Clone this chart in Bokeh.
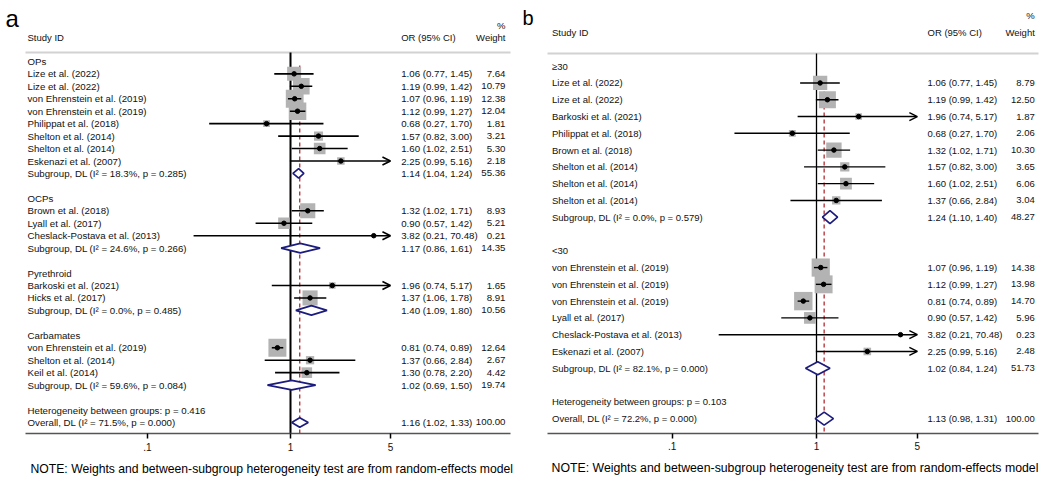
import math
from bokeh.plotting import figure
from bokeh.models import (Range1d, LogAxis, FixedTicker, CustomJSTickFormatter,
                          ColumnDataSource, Arrow, OpenHead)
from bokeh.layouts import row
from bokeh.embed import file_html
from bokeh.resources import INLINE
from bokeh.core.properties import value

# ---------------- Panel a data ----------------
a_label = ["OPs", "Lize et al. (2022)", "Lize et al. (2022)", "von Ehrenstein et al. (2019)",
           "von Ehrenstein et al. (2019)", "Philippat et al. (2018)", "Shelton et al. (2014)",
           "Shelton et al. (2014)", "Eskenazi et al. (2007)", "Subgroup, DL (I² = 18.3%, p = 0.285)", "",
           "OCPs", "Brown et al. (2018)", "Lyall et al. (2017)", "Cheslack-Postava et al. (2013)",
           "Subgroup, DL (I² = 24.6%, p = 0.266)", "",
           "Pyrethroid", "Barkoski et al. (2021)", "Hicks et al. (2017)",
           "Subgroup, DL (I² = 0.0%, p = 0.485)", "",
           "Carbamates", "von Ehrenstein et al. (2019)", "Shelton et al. (2014)", "Keil et al. (2014)",
           "Subgroup, DL (I² = 59.6%, p = 0.084)", "",
           "Heterogeneity between groups: p = 0.416", "Overall, DL (I² = 71.5%, p = 0.000)"]
a_kind = ["g", "s", "s", "s", "s", "s", "s", "s", "s", "d", "b",
          "g", "s", "s", "s", "d", "b",
          "g", "s", "s", "d", "b",
          "g", "s", "s", "s", "d", "b",
          "h", "o"]
a_or = [None, 1.06, 1.19, 1.07, 1.12, 0.68, 1.57, 1.60, 2.25, 1.14, None,
        None, 1.32, 0.90, 3.82, 1.17, None,
        None, 1.96, 1.37, 1.40, None,
        None, 0.81, 1.37, 1.30, 1.02, None,
        None, 1.16]
a_lo = [None, 0.77, 0.99, 0.96, 0.99, 0.27, 0.82, 1.02, 0.99, 1.04, None,
        None, 1.02, 0.57, 0.21, 0.86, None,
        None, 0.74, 1.06, 1.09, None,
        None, 0.74, 0.66, 0.78, 0.69, None,
        None, 1.02]
a_hi = [None, 1.45, 1.42, 1.19, 1.27, 1.70, 3.00, 2.51, 5.16, 1.24, None,
        None, 1.71, 1.42, 70.48, 1.61, None,
        None, 5.17, 1.78, 1.80, None,
        None, 0.89, 2.84, 2.20, 1.50, None,
        None, 1.33]
a_wt = [None, 7.64, 10.79, 12.38, 12.04, 1.81, 3.21, 5.30, 2.18, 55.36, None,
        None, 8.93, 5.21, 0.21, 14.35, None,
        None, 1.65, 8.91, 10.56, None,
        None, 12.64, 2.67, 4.42, 19.74, None,
        None, 100.00]

# ---------------- Panel b data ----------------
b_label = ["≥30", "Lize et al. (2022)", "Lize et al. (2022)", "Barkoski et al. (2021)",
           "Philippat et al. (2018)", "Brown et al. (2018)", "Shelton et al. (2014)",
           "Shelton et al. (2014)", "Shelton et al. (2014)", "Subgroup, DL (I² = 0.0%, p = 0.579)", "",
           "<30", "von Ehrenstein et al. (2019)", "von Ehrenstein et al. (2019)",
           "von Ehrenstein et al. (2019)", "Lyall et al. (2017)", "Cheslack-Postava et al. (2013)",
           "Eskenazi et al. (2007)", "Subgroup, DL (I² = 82.1%, p = 0.000)", "",
           "Heterogeneity between groups: p = 0.103", "Overall, DL (I² = 72.2%, p = 0.000)"]
b_kind = ["g", "s", "s", "s", "s", "s", "s", "s", "s", "d", "b",
          "g", "s", "s", "s", "s", "s", "s", "d", "b",
          "h", "o"]
b_or = [None, 1.06, 1.19, 1.96, 0.68, 1.32, 1.57, 1.60, 1.37, 1.24, None,
        None, 1.07, 1.12, 0.81, 0.90, 3.82, 2.25, 1.02, None,
        None, 1.13]
b_lo = [None, 0.77, 0.99, 0.74, 0.27, 1.02, 0.82, 1.02, 0.66, 1.10, None,
        None, 0.96, 0.99, 0.74, 0.57, 0.21, 0.99, 0.84, None,
        None, 0.98]
b_hi = [None, 1.45, 1.42, 5.17, 1.70, 1.71, 3.00, 2.51, 2.84, 1.40, None,
        None, 1.19, 1.27, 0.89, 1.42, 70.48, 5.16, 1.24, None,
        None, 1.31]
b_wt = [None, 8.79, 12.50, 1.87, 2.06, 10.30, 3.65, 6.06, 3.04, 48.27, None,
        None, 14.38, 13.98, 14.70, 5.96, 0.23, 2.48, 51.73, None,
        None, 100.00]

TICKS = [0.1, 1, 5]
TICK_LABELS = [".1", "1", "5"]
NULL_OR = 1
CLIP_HI = 5.0
NOTE = "NOTE: Weights and between-subgroup heterogeneity test are from random-effects model"

FONT = value("Liberation Sans")
H = 480
NAVY = "#1c1c7e"
RED = "#b8393e"
GRAY = "#b3b3b3"


def panel(letter, labels, kinds, ors, los, his, wts, L):
    W = L["w"]
    x1, dec = L["x1"], L["dec"]

    def px2x(px):
        return 10 ** ((px - x1) / dec)

    p = figure(width=W, height=H, x_axis_type="log", x_axis_location=None, y_axis_location=None,
               x_range=Range1d(px2x(0), px2x(W)), y_range=Range1d(H, 0),
               output_backend="svg", toolbar_location=None, min_border=0,
               outline_line_color=None, background_fill_color="white", border_fill_color="white")
    p.xgrid.visible = False
    p.ygrid.visible = False

    ys = [L["r0"] + L["rh"] * k for k in range(len(labels))]
    overall = [o for o, k in zip(ors, kinds) if k == "o"][0]

    # header line
    p.segment(x0=[px2x(L["xl"])], x1=[px2x(L["xr"])], y0=[L["hdr"]], y1=[L["hdr"]],
              line_color="#d2d2d2", line_width=2)
    # null line
    p.segment(x0=[NULL_OR], x1=[NULL_OR], y0=[L["hdr"]], y1=[L["axy"]],
              line_color="black", line_width=L["vw"])
    # overall dashed line
    p.segment(x0=[overall], x1=[overall], y0=[L["redtop"]], y1=[L["axy"]],
              line_color=RED, line_width=1.4, line_dash="4 3")

    st = [i for i, k in enumerate(kinds) if k == "s"]
    # weight squares
    p.scatter(x=[ors[i] for i in st], y=[ys[i] for i in st],
              size=[L["sq"] * math.sqrt(wts[i]) for i in st], marker="square",
              fill_color=GRAY, line_color=None)
    # CI lines
    inr = [i for i in st if his[i] <= CLIP_HI]
    p.segment(x0=[los[i] for i in inr], x1=[his[i] for i in inr],
              y0=[ys[i] for i in inr], y1=[ys[i] for i in inr],
              line_color="black", line_width=L["ciw"])
    clip = [i for i in st if his[i] > CLIP_HI]
    csrc = ColumnDataSource(dict(x0=[los[i] for i in clip], x1=[CLIP_HI] * len(clip),
                                 y=[ys[i] for i in clip]))
    p.add_layout(Arrow(source=csrc, x_start="x0", y_start="y", x_end="x1", y_end="y",
                       line_color="black", line_width=L["ciw"],
                       end=OpenHead(size=8, line_width=L["ciw"], line_color="black")))
    # point estimates
    p.scatter(x=[ors[i] for i in st], y=[ys[i] for i in st], size=4.5, marker="circle",
              fill_color="black", line_color="black")

    # diamonds
    dm = [i for i, k in enumerate(kinds) if k in ("d", "o")]
    dh = L["dh"]
    p.patches(xs=[[los[i], ors[i], his[i], ors[i]] for i in dm],
              ys=[[ys[i], ys[i] - dh, ys[i], ys[i] + dh] for i in dm],
              fill_color="white", line_color=NAVY, line_width=1.7)

    # text columns
    fs = L["fs"]
    p.text(x=[px2x(L["lab"])] * len(labels), y=ys, text=labels, text_font=FONT,
           text_font_size=fs, text_align="left", text_baseline="middle", text_color="#111111")
    dr = [i for i, o in enumerate(ors) if o is not None]
    p.text(x=[px2x(L["orx"])] * len(dr), y=[ys[i] for i in dr],
           text=[f"{ors[i]:.2f} ({los[i]:.2f}, {his[i]:.2f})" for i in dr], text_font=FONT,
           text_font_size=fs, text_align="left", text_baseline="middle", text_color="#111111")
    p.text(x=[px2x(L["wx"])] * len(dr), y=[ys[i] for i in dr],
           text=[f"{wts[i]:.2f}" for i in dr], text_font=FONT,
           text_font_size=fs, text_align="right", text_baseline="middle", text_color="#111111")

    # headers
    hf = L["hfs"]
    p.text(x=[px2x(L["lab"])], y=[L["sy"]], text=["Study ID"], text_font=FONT,
           text_font_size=hf, text_align="left", text_baseline="middle", text_color="#111111")
    p.text(x=[px2x(L["orx"])], y=[L["sy"]], text=["OR (95% CI)"], text_font=FONT,
           text_font_size=hf, text_align="left", text_baseline="middle", text_color="#111111")
    p.text(x=[px2x(L["wx"])] * 2, y=[L["py"], L["sy"]], text=["%", "Weight"], text_font=FONT,
           text_font_size=hf, text_align="right", text_baseline="middle", text_color="#111111")
    p.text(x=[px2x(L["lx"])], y=[L["ly"]], text=[letter], text_font=FONT,
           text_font_size=L["lfs"], text_align="left", text_baseline="alphabetic", text_color="black")
    p.text(x=[px2x(L["nx"])], y=[L["ny"]], text=[NOTE], text_font=FONT,
           text_font_size=L["nfs"], text_align="left", text_baseline="middle", text_color="black")

    # axis
    ax = LogAxis(fixed_location=L["axy"], bounds=(px2x(L["xl"]), px2x(L["xr"])),
                 ticker=FixedTicker(ticks=TICKS, minor_ticks=[]),
                 formatter=CustomJSTickFormatter(
                     args=dict(vals=TICKS, labs=TICK_LABELS),
                     code="for (let i = 0; i < vals.length; i++) { if (Math.abs(vals[i] - tick) < 1e-9) return labs[i]; } return '';"))
    ax.axis_line_color = "#555555"
    ax.axis_line_width = 1.5
    ax.major_tick_line_color = "black"
    ax.major_tick_line_width = 1.5
    ax.major_tick_out = 5
    ax.major_tick_in = 0
    ax.minor_tick_out = 0
    ax.minor_tick_in = 0
    ax.major_label_standoff = 4
    ax.major_label_text_font = "Liberation Sans"
    ax.major_label_text_font_size = "10px"
    ax.major_label_text_color = "#111111"
    p.add_layout(ax, "below")
    return p


LA = dict(w=520, x1=290, dec=143, r0=60.9, rh=12.45, lab=27, orx=400.7, wx=505, hdr=52, axy=433,
          xl=25, xr=510, sq=5.06, dh=4.75, sy=36.7, py=25, lx=5, ly=18, nx=30, ny=468,
          redtop=65, vw=2, ciw=1.6, fs="9.7px", hfs="9.5px", lfs="24px", nfs="12.2px")
LB = dict(w=528, x1=296, dec=144.3, r0=65.7, rh=16.78, lab=31.5, orx=407, wx=514.3, hdr=53, axy=432.7,
          xl=27, xr=518, sq=4.8, dh=6.5, sy=32, py=15, lx=2, ly=17, nx=31, ny=467.7,
          redtop=77, vw=1.3, ciw=1.4, fs="9.5px", hfs="9.5px", lfs="20px", nfs="12.3px")

pa = panel("a", a_label, a_kind, a_or, a_lo, a_hi, a_wt, LA)
pb = panel("b", b_label, b_kind, b_or, b_lo, b_hi, b_wt, LB)

layout = row(pa, pb)
open("out.html", "w").write(file_html(layout, INLINE))
